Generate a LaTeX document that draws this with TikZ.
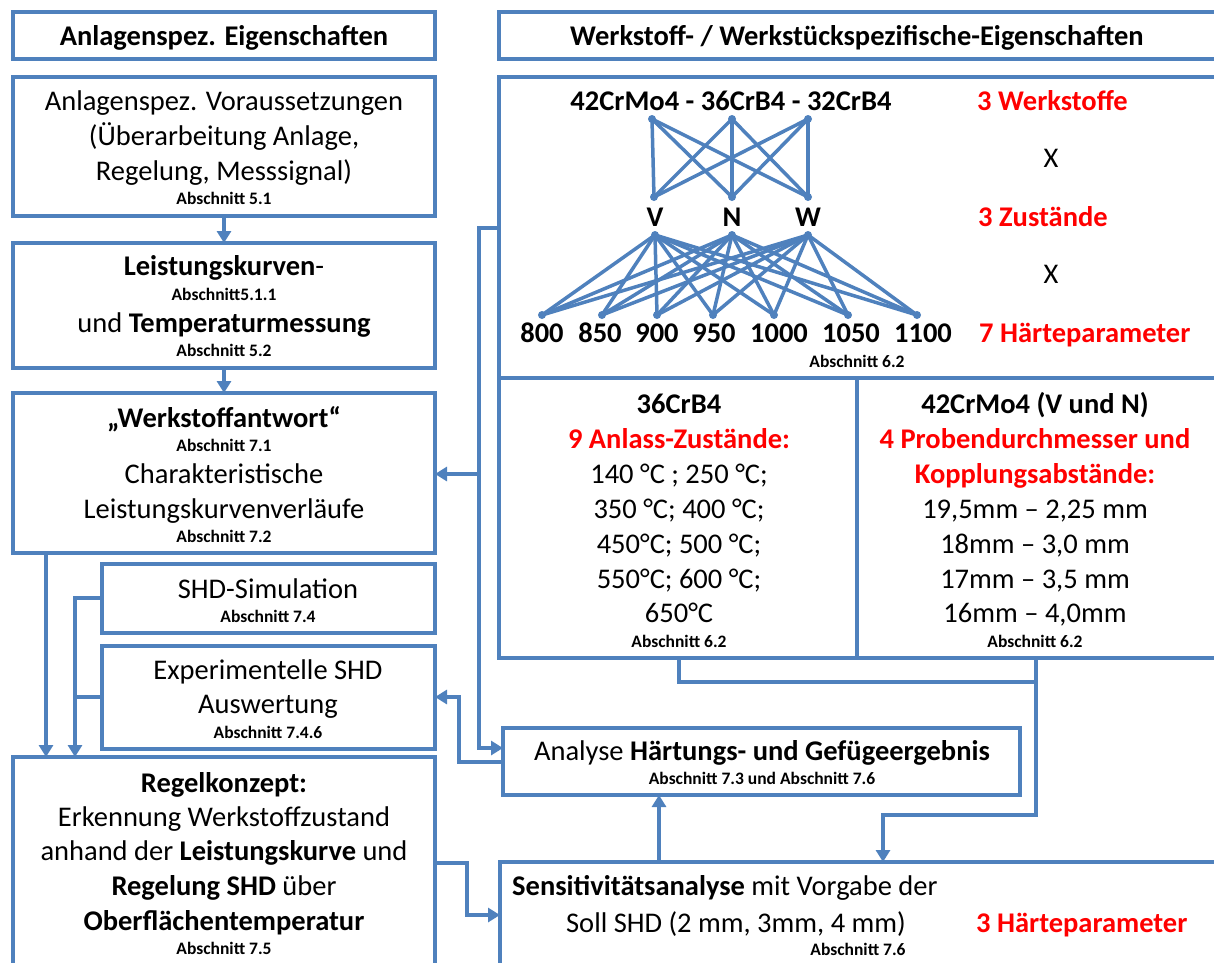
\documentclass[tikz,border=0pt]{standalone}
\usepackage{fontspec}
\setmainfont{Carlito}
\usetikzlibrary{arrows.meta}
\definecolor{lb}{HTML}{4F81BD}
\definecolor{rd}{HTML}{FF0000}
\newcounter{lc}
\newcommand\mtf{\fontsize{28.5}{35}\selectfont}
\newcommand\stf{\fontsize{17.5}{21}\selectfont\bfseries}
\newcommand\bx[5]{\node[box,anchor=north west,minimum width=#4pt-#2pt,minimum height=#5pt-#3pt] (#1) at (#2,#3) {};}
\newcommand\tl[4][]{\stepcounter{lc}\node[tx,#1] (txt\arabic{lc}) at (#2,#3) {#4};}
\begin{document}
\begin{tikzpicture}[x=1pt,y=-1pt,
  box/.style={draw=lb,line width=4pt,inner sep=0pt,outer sep=0pt},
  con/.style={draw=lb,line width=3.8pt},
  arr/.style={con,-{Triangle[length=12pt,width=14pt]}},
  net/.style={draw=lb,line width=3.5pt},
  tx/.style={inner sep=0pt,anchor=base,font=\mtf},
  sm/.style={font=\stf},
  bf/.style={font=\mtf\bfseries},
  red/.style={text=rd,font=\mtf\bfseries}]
\useasboundingbox (0,0) rectangle (1214,962);
% boxes
\bx{H1}{13}{12}{435}{59}
\bx{H2}{499}{12}{1222}{59}
\bx{A}{13}{77}{435}{216}
\bx{B}{13}{243}{435}{368}
\bx{C}{13}{393}{435}{553}
\bx{S}{102}{564}{435}{633}
\bx{E}{102}{646}{435}{749}
\bx{R}{13}{757}{435}{985}
\bx{W}{499}{77}{1222}{378}
\bx{L1}{499}{378}{857}{658}
\bx{L2}{857}{378}{1222}{658}
\bx{An}{503}{728}{1020}{795}
\bx{Se}{500}{862}{1222}{985}
% headers
\tl[bf]{224}{45}{Anlagenspez. Eigenschaften}
\tl[bf]{857}{45}{Werkstoff- / Werkstückspezifische-Eigenschaften}
% A
\tl{224}{110}{Anlagenspez. Voraussetzungen}
\tl{224}{145}{(Überarbeitung Anlage,}
\tl{224}{180}{Regelung, Messsignal)}
\tl[sm]{224}{204}{Abschnitt 5.1}
% B
\tl{224}{275}{\textbf{Leistungskurven}-}
\tl[sm]{224}{300}{Abschnitt5.1.1}
\tl{224}{332}{und \textbf{Temperaturmessung}}
\tl[sm]{224}{356}{Abschnitt 5.2}
% C
\tl[bf]{224}{427}{„Werkstoffantwort“}
\tl[sm]{224}{451}{Abschnitt 7.1}
\tl{224}{483}{Charakteristische}
\tl{224}{518}{Leistungskurvenverläufe}
\tl[sm]{224}{542}{Abschnitt 7.2}
% S
\tl{268}{598}{SHD-Simulation}
\tl[sm]{268}{622}{Abschnitt 7.4}
% E
\tl{268}{679}{Experimentelle SHD}
\tl{268}{713}{Auswertung}
\tl[sm]{268}{738}{Abschnitt 7.4.6}
% R
\tl[bf]{224}{792}{Regelkonzept:}
\tl{224}{826}{Erkennung Werkstoffzustand}
\tl{224}{860}{anhand der \textbf{Leistungskurve} und}
\tl{224}{895}{\textbf{Regelung SHD} über}
\tl[bf]{224}{930}{Oberflächentemperatur}
\tl[sm]{224}{954}{Abschnitt 7.5}
% W
\tl[bf]{731}{110}{42CrMo4 - 36CrB4 - 32CrB4}
\tl[red,anchor=base west]{977}{110}{3 Werkstoffe}
\tl{1051}{167}{X}
\tl[bf]{655}{226}{V}
\tl[bf]{732}{226}{N}
\tl[bf]{808}{226}{W}
\tl[red,anchor=base west]{978}{226}{3 Zustände}
\tl{1051}{283}{X}
\tl[bf]{542}{342}{800}
\tl[bf]{600}{342}{850}
\tl[bf]{657}{342}{900}
\tl[bf]{714}{342}{950}
\tl[bf]{779}{342}{1000}
\tl[bf]{851}{342}{1050}
\tl[bf]{923}{342}{1100}
\tl[red,anchor=base west]{979}{342}{7 Härteparameter}
\tl[sm]{857}{367}{Abschnitt 6.2}
% network
\coordinate (nt1) at (652,119);
\coordinate (nt2) at (732,119);
\coordinate (nt3) at (808,119);
\coordinate (nm1) at (654,197);
\coordinate (nm2) at (732,197);
\coordinate (nm3) at (808,197);
\coordinate (nb1) at (655,235);
\coordinate (nb2) at (732,235);
\coordinate (nb3) at (808,235);
\foreach \j/\x in {1/542,2/602,3/657,4/713,5/774,6/848,7/917}{
  \coordinate (np\j) at (\x,315);}
\foreach \i in {1,2,3}{
  \foreach \k in {1,2,3}{\draw[net] (nt\i) -- (nm\k);}
  \foreach \j in {1,...,7}{\draw[net] (nb\i) -- (np\j);}}
\foreach \n in {nt1,nt2,nt3,nm1,nm2,nm3,nb1,nb2,nb3,np1,np2,np3,np4,np5,np6,np7}{
  \fill[lb] (\n) circle (4);}
% L1
\tl[bf]{679}{413}{36CrB4}
\tl[red]{679}{448}{9 Anlass-Zustände:}
\tl{679}{483}{140 °C ; 250 °C;}
\tl{679}{518}{350 °C; 400 °C;}
\tl{679}{553}{450°C; 500 °C;}
\tl{679}{588}{550°C; 600 °C;}
\tl{679}{622}{650°C}
\tl[sm]{679}{647}{Abschnitt 6.2}
% L2
\tl[bf]{1035}{413}{42CrMo4 (V und N)}
\tl[red]{1035}{448}{4 Probendurchmesser und}
\tl[red]{1035}{483}{Kopplungsabstände:}
\tl{1035}{518}{19,5mm – 2,25 mm}
\tl{1035}{553}{18mm – 3,0 mm}
\tl{1035}{588}{17mm – 3,5 mm}
\tl{1035}{622}{16mm – 4,0mm}
\tl[sm]{1035}{647}{Abschnitt 6.2}
% An
\tl{762}{760}{Analyse \textbf{Härtungs- und Gefügeergebnis}}
\tl[sm]{762}{784}{Abschnitt 7.3 und Abschnitt 7.6}
% Se
\tl[anchor=base west]{512}{895}{\textbf{Sensitivitätsanalyse} mit Vorgabe der}
\tl{736}{932}{Soll SHD (2 mm, 3mm, 4 mm)}
\tl[red,anchor=base west]{976}{932}{3 Härteparameter}
\tl[sm]{858}{955}{Abschnitt 7.6}
% connectors
\coordinate (x46) at (46,0);
\coordinate (j1) at (75,598);
\coordinate (j2) at (75,697);
\coordinate (k1) at (479,228);
\coordinate (k2) at (479,748);
\coordinate (k3) at (479,474);
\coordinate (m1) at (459,762);
\coordinate (m2) at (459,697);
\coordinate (n1) at (679,682);
\coordinate (n2) at (1036,682);
\coordinate (n3) at (1036,815);
\coordinate (n4) at (883,815);
\coordinate (p1) at (659,0);
\coordinate (q1) at (467,863);
\coordinate (q2) at (467,915);
\draw[arr] (A.south) -- (B.north);
\draw[arr] (B.south) -- (C.north);
\draw[arr] (C.south -| x46) -- (R.north -| x46);
\draw[arr] (S.west |- j1) -- (j1) -- (R.north -| j1);
\draw[con] (E.west |- j2) -- (j2);
\draw[arr] (W.west |- k1) -- (k1) -- (k2) -- (An.west |- k2);
\draw[arr] (k3) -- (C.east |- k3);
\draw[arr] (An.west |- m1) -- (m1) -- (m2) -- (E.east |- m2);
\draw[con] (L1.south -| n1) -- (n1) -- (n2) -- (L2.south -| n2);
\draw[arr] (n2) -- (n3) -- (n4) -- (Se.north -| n4);
\draw[arr] (Se.north -| p1) -- (An.south -| p1);
\draw[arr] (R.east |- q1) -- (q1) -- (q2) -- (Se.west |- q2);
\end{tikzpicture}
\end{document}
